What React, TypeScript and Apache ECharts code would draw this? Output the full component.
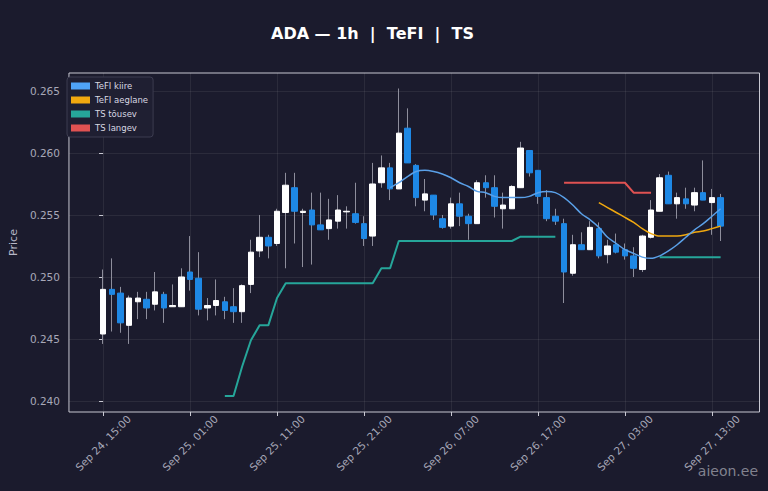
import React, { useEffect, useRef } from 'react';
import * as echarts from 'echarts';

// hourly candles, index 0 = Sep 24 15:00
const opens = [
  0.2454, 0.2490, 0.2487, 0.2461, 0.2480, 0.2482, 0.2478, 0.2486, 0.2476, 0.2476,
  0.2504, 0.2499, 0.2475, 0.2477, 0.2480, 0.2476, 0.2472, 0.2494, 0.2521, 0.2532,
  0.2527, 0.2552, 0.2572, 0.2552, 0.2554, 0.2542, 0.2539, 0.2545, 0.25525, 0.2551,
  0.2543, 0.2533, 0.2576, 0.2588, 0.2571, 0.2620, 0.2590, 0.2562, 0.2566, 0.2547,
  0.2541, 0.2559, 0.2549, 0.2543, 0.2576, 0.2572, 0.2555, 0.2555, 0.2572, 0.2602,
  0.2586, 0.2564, 0.2549, 0.2543, 0.2503, 0.2526, 0.2522, 0.2539, 0.2518, 0.2526,
  0.2522, 0.2517, 0.2506, 0.2532, 0.2553, 0.2582, 0.2559, 0.2563, 0.2558, 0.2568,
  0.2560, 0.2564,
];
const closes = [
  0.2490, 0.2486, 0.2463, 0.2483, 0.2483, 0.2475, 0.2488, 0.2475, 0.2477, 0.2500,
  0.2498, 0.2474, 0.2477, 0.2481, 0.2473, 0.2472, 0.2493, 0.2520, 0.2532, 0.2525,
  0.2553, 0.2574, 0.2553, 0.2553, 0.2542, 0.2538, 0.2546, 0.2554, 0.2553, 0.2544,
  0.2531, 0.2575, 0.2588, 0.2571, 0.2616, 0.2592, 0.2564, 0.2567, 0.2550, 0.2540,
  0.2559, 0.2549, 0.2543, 0.2576, 0.2572, 0.2557, 0.2558, 0.2573, 0.2604, 0.2584,
  0.2565, 0.2547, 0.2545, 0.2504, 0.2526, 0.2522, 0.2540, 0.2517, 0.2525, 0.2520,
  0.2517, 0.2507, 0.2533, 0.2554, 0.2580, 0.2559, 0.2564, 0.2559, 0.2568, 0.2562,
  0.2564, 0.2541,
];
const lows = [
  0.2446, 0.2456, 0.2455, 0.2446, 0.2466, 0.2466, 0.2473, 0.2463, 0.2476, 0.2476,
  0.2489, 0.2469, 0.2465, 0.2469, 0.2466, 0.2463, 0.2463, 0.2487, 0.2516, 0.2515,
  0.2525, 0.2507, 0.2527, 0.2508, 0.2510, 0.2538, 0.2530, 0.2539, 0.2539, 0.2543,
  0.2525, 0.2525, 0.2572, 0.2562, 0.2571, 0.2592, 0.2557, 0.2553, 0.2546, 0.2539,
  0.2539, 0.2541, 0.2530, 0.2543, 0.2564, 0.2548, 0.2539, 0.2555, 0.2572, 0.2581,
  0.2559, 0.2545, 0.2542, 0.2479, 0.2501, 0.2522, 0.2522, 0.2515, 0.2511, 0.2519,
  0.2514, 0.2500, 0.2504, 0.2531, 0.2553, 0.2559, 0.2547, 0.2555, 0.2553, 0.2562,
  0.2534, 0.2529,
];
const highs = [
  0.2506, 0.2515, 0.2492, 0.2485, 0.2488, 0.2488, 0.2504, 0.2488, 0.2494, 0.2507,
  0.2533, 0.2520, 0.2483, 0.2498, 0.2484, 0.2491, 0.2494, 0.2530, 0.2550, 0.2534,
  0.2555, 0.2584, 0.2584, 0.2555, 0.2568, 0.2568, 0.2563, 0.2566, 0.2557, 0.2576,
  0.2549, 0.2592, 0.2598, 0.2592, 0.2652, 0.2636, 0.2591, 0.2579, 0.2566, 0.2550,
  0.2564, 0.2568, 0.2551, 0.2578, 0.2582, 0.2582, 0.2568, 0.2574, 0.2609, 0.2602,
  0.2586, 0.2570, 0.2555, 0.2547, 0.2534, 0.2536, 0.2545, 0.2544, 0.2530, 0.2535,
  0.2527, 0.2524, 0.2534, 0.2562, 0.2583, 0.2585, 0.2568, 0.2572, 0.2572, 0.2594,
  0.2571, 0.2567,
];

const fastStart = 33;
const fastLine = [
  0.2572, 0.2576, 0.2581, 0.2585, 0.2586, 0.2585, 0.2583, 0.2580, 0.2576, 0.2573,
  0.2569, 0.2568, 0.2565, 0.2564, 0.2564, 0.2564, 0.2565, 0.2568, 0.2569, 0.2568,
  0.2564, 0.2558, 0.2551, 0.2546, 0.2540, 0.2532, 0.2527, 0.2522, 0.2519, 0.2516,
  0.2515, 0.2517, 0.2521, 0.2526, 0.2532, 0.2538, 0.2543, 0.2549, 0.2555,
];
const slowStart = 57;
const slowLine = [
  0.2560, 0.2556, 0.2552, 0.2548, 0.2544, 0.2539, 0.2535, 0.2533, 0.2533, 0.2533,
  0.2534, 0.2536, 0.2537, 0.2539, 0.2541,
];
const tsUpStart = 14;
const tsUp = [
  0.2404, 0.2404, 0.2428, 0.2449, 0.2461, 0.2461, 0.2483, 0.2495, 0.2495, 0.2495,
  0.2495, 0.2495, 0.2495, 0.2495, 0.2495, 0.2495, 0.2495, 0.2495, 0.2507, 0.2507,
  0.2529, 0.2529, 0.2529, 0.2529, 0.2529, 0.2529, 0.2529, 0.2529, 0.2529, 0.2529,
  0.2529, 0.2529, 0.2529, 0.2529, 0.25325, 0.25325, 0.25325, 0.25325, 0.25325,
  null, null, null, null, null, null, null, null, null, null, null,
  0.2516, 0.2516, 0.2516, 0.2516, 0.2516, 0.2516, 0.2516, 0.2516,
];
const tsDownStart = 53;
const tsDown = [0.2576, 0.2576, 0.2576, 0.2576, 0.2576, 0.2576, 0.2576, 0.2576, 0.2568, 0.2568, 0.2568];

const xTickIndex = [0, 10, 20, 30, 40, 50, 60, 70];
const xTickLabels = [
  'Sep 24, 15:00', 'Sep 25, 01:00', 'Sep 25, 11:00', 'Sep 25, 21:00',
  'Sep 26, 07:00', 'Sep 26, 17:00', 'Sep 27, 03:00', 'Sep 27, 13:00',
];
const yTicks = [0.24, 0.245, 0.25, 0.255, 0.26, 0.265];

const BG = '#1b1b2d';
const FONT = 'DejaVu Sans';

const withStart = (start: number, arr: (number | null)[]) => arr.map((v, k) => [start + k, v]);

const App = () => {
  const chartRef = useRef<HTMLDivElement>(null);

  useEffect(() => {
    document.body.style.margin = '0';
    document.body.style.background = BG;
    const myChart = echarts.init(chartRef.current, null, { renderer: 'svg' });

    const wickData = opens.map((o, i) => [i, o, closes[i], lows[i], highs[i]]);
    const bodyData = opens.map((o, i) => [i, o, closes[i], Math.min(o, closes[i]), Math.max(o, closes[i])]);

    const option = {
      animation: false,
      backgroundColor: BG,
      textStyle: { fontFamily: FONT },
      title: {
        text: 'ADA — 1h  |  TeFI  |  TS',
        left: 271,
        top: 25,
        padding: 0,
        textStyle: { color: '#ffffff', fontSize: 16, fontWeight: 'bold', fontFamily: FONT },
      },
      legend: {
        orient: 'vertical',
        left: 67,
        top: 77,
        padding: [4, 5, 4, 4],
        itemGap: 4,
        itemWidth: 19,
        itemHeight: 7,
        icon: 'rect',
        backgroundColor: '#1f1f32',
        borderColor: '#3c3c50',
        borderWidth: 1,
        borderRadius: 3,
        textStyle: { color: '#d8d8e2', fontSize: 8.5, lineHeight: 10, fontFamily: FONT },
        data: ['TeFI kiire', 'TeFI aeglane', 'TS tõusev', 'TS langev'],
      },
      grid: {
        left: 63.5,
        top: 73,
        width: 696,
        height: 339,
        show: true,
        backgroundColor: BG,
        borderColor: '#c8c8d2',
        borderWidth: 1,
      },
      xAxis: {
        type: 'value',
        // ECharts widens the lower bound a little for the candle series; -3.92 ends up near -4.55
        min: -3.92,
        max: 75.47,
        axisLine: { show: false },
        axisTick: { show: true, length: 4, customValues: xTickIndex, lineStyle: { color: '#c8c8d2' } },
        splitLine: { show: true, lineStyle: { color: 'rgba(255,255,255,0.07)', width: 1 } },
        axisLabel: {
          customValues: xTickIndex,
          rotate: 45,
          align: 'center',
          verticalAlign: 'middle',
          margin: 31,
          color: '#a8a8b8',
          fontSize: 10.5,
          fontFamily: FONT,
          formatter: (v: number) => xTickLabels[xTickIndex.indexOf(Math.round(v))] ?? '',
        },
      },
      yAxis: {
        type: 'value',
        min: 0.23911,
        max: 0.26645,
        name: 'Price',
        nameLocation: 'middle',
        nameGap: 46,
        nameRotate: 90,
        nameTextStyle: { color: '#b8b8c8', fontSize: 11, fontFamily: FONT },
        axisLine: { show: false },
        axisTick: { show: true, length: 4, customValues: yTicks, lineStyle: { color: '#c8c8d2' } },
        splitLine: { show: true, lineStyle: { color: 'rgba(255,255,255,0.07)', width: 1 } },
        axisLabel: {
          customValues: yTicks,
          margin: 9,
          color: '#a8a8b8',
          fontSize: 10.5,
          fontFamily: FONT,
          formatter: (v: number) => v.toFixed(3),
        },
      },
      series: [
        {
          name: 'wicks',
          type: 'candlestick',
          barWidth: 1,
          data: wickData,
          itemStyle: {
            color: '#8e8e9c',
            color0: '#8e8e9c',
            borderColor: '#8e8e9c',
            borderColor0: '#8e8e9c',
            borderColorDoji: '#8e8e9c',
            borderWidth: 1,
          },
          silent: true,
        },
        {
          name: 'bodies',
          type: 'candlestick',
          barWidth: 6,
          data: bodyData,
          itemStyle: {
            color: '#ffffff',
            color0: '#1e88e5',
            borderColor: '#ffffff',
            borderColor0: '#1e88e5',
            borderColorDoji: '#ffffff',
            borderWidth: 1,
          },
          silent: true,
        },
        {
          name: 'TS tõusev',
          type: 'line',
          showSymbol: false,
          connectNulls: false,
          data: withStart(tsUpStart, tsUp),
          itemStyle: { color: '#26a69a' },
          lineStyle: { color: '#26a69a', width: 2 },
        },
        {
          name: 'TS langev',
          type: 'line',
          showSymbol: false,
          data: withStart(tsDownStart, tsDown),
          itemStyle: { color: '#e05252' },
          lineStyle: { color: '#e05252', width: 2 },
        },
        {
          name: 'TeFI aeglane',
          type: 'line',
          showSymbol: false,
          smooth: 0.3,
          data: withStart(slowStart, slowLine),
          itemStyle: { color: '#f0a80f' },
          lineStyle: { color: '#f0a80f', width: 1.5 },
        },
        {
          name: 'TeFI kiire',
          type: 'line',
          showSymbol: false,
          smooth: 0.3,
          data: withStart(fastStart, fastLine),
          itemStyle: { color: '#4fa3f7' },
          lineStyle: { color: '#5aa0e8', width: 1.5 },
        },
      ],
      graphic: [
        {
          type: 'text',
          right: 10,
          bottom: 13,
          style: { text: 'aieon.ee', fill: 'rgba(200,200,210,0.6)', fontSize: 14, fontFamily: FONT },
        },
      ],
    };

    myChart.setOption(option);

    return () => {
      myChart.dispose();
    };
  }, []);

  return <div ref={chartRef} style={{ width: '768px', height: '491px' }} />;
};

export default App;
